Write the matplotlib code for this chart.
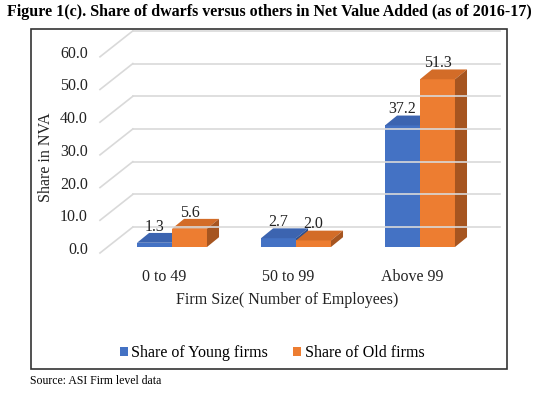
import matplotlib.pyplot as plt
from matplotlib.patches import Polygon, Rectangle, Patch

# data
categories = ['0 to 49', '50 to 99', 'Above 99']
young = [1.3, 2.7, 37.2]
old = [5.6, 2.0, 51.3]
ticks = [0, 10, 20, 30, 40, 50, 60]
series_names = ['Share of Young firms', 'Share of Old firms']

plt.rcParams['font.family'] = ['Liberation Serif', 'DejaVu Serif']

fig = plt.figure(figsize=(5.37, 3.93), dpi=100)
ax = fig.add_axes([0.1818, 0.3715, 0.7389, 0.4992])
ax.set_xlim(-0.6, 2.6)
ax.set_ylim(0, 60)
ax.axis('off')

# fake 3d offsets (data units)
w = 0.282
DX, DY = 0.097, 3.0       # bar depth
FX, FY = -0.065, -1.83    # front plane of walls
BX, BY = 0.20, 6.1        # back wall
WL, WR = -0.516, 2.645

grid_c = '#d9d9d9'
for t in ticks:
    ax.plot([WL + FX, WL + BX], [t + FY, t + BY], color=grid_c, lw=1.2, clip_on=False)
    ax.plot([WL + BX, WR], [t + BY, t + BY], color=grid_c, lw=1.2, clip_on=False)
    ax.annotate('%.1f' % t, (WL + FX, t + FY), xytext=(-12, 3), textcoords='offset pixels',
                ha='right', va='center', fontsize=11.5, color='#222222', annotation_clip=False)

colors = [('#4472C4', '#3c64b0', '#2d4f8e'), ('#ED7D31', '#d36c28', '#a65520')]


def bar3d(x0, x1, v, cols):
    front, top, side = cols
    ax.add_patch(Polygon([(x0, 0), (x1, 0), (x1, v), (x0, v)], closed=True,
                         fc=front, ec='none', clip_on=False))
    ax.add_patch(Polygon([(x0, v), (x1, v), (x1 + DX, v + DY), (x0 + DX, v + DY)],
                         closed=True, fc=top, ec='none', clip_on=False))
    ax.add_patch(Polygon([(x1, 0), (x1 + DX, DY), (x1 + DX, v + DY), (x1, v)],
                         closed=True, fc=side, ec='none', clip_on=False))


for i in range(len(categories)):
    for j, vals in enumerate([young, old]):
        x0 = i - w + j * w
        bar3d(x0, x0 + w, vals[i], colors[j])
    for j, vals in enumerate([young, old]):
        xc = i - w / 2 + j * w
        ax.annotate('%.1f' % vals[i], (xc, vals[i]), xytext=(0, 16), textcoords='offset pixels',
                    ha='center', va='center', fontsize=11.5, color='#222222',
                    annotation_clip=False)
    ax.annotate(categories[i], (i + FX, FY), xytext=(0, -24), textcoords='offset pixels',
                ha='center', va='center', fontsize=11.5, color='#222222', annotation_clip=False)

fig.text(287 / 537, 1 - 300 / 393, 'Firm Size( Number of Employees)', ha='center', va='center',
         fontsize=11.5, color='#222222')
fig.text(46 / 537, 1 - 157 / 393, 'Share in NVA', rotation=90, ha='center', va='center',
         fontsize=11.5, color='#222222')

handles = [Patch(fc=colors[0][0]), Patch(fc=colors[1][0])]
fig.legend(handles, series_names, loc='center', bbox_to_anchor=(272 / 537, 1 - 353 / 393),
           ncol=2, frameon=False, fontsize=11.5, handlelength=0.5, handleheight=0.5,
           handletextpad=0.2, columnspacing=1.6, borderpad=0)

fig.add_artist(Rectangle((31 / 537, 24 / 393), 476 / 537, 340 / 393, transform=fig.transFigure,
                         fill=False, ec='#333333', lw=1.2))

fig.text(269 / 537, 1 - 12 / 393,
         'Figure 1(c). Share of dwarfs versus others in Net Value Added (as of 2016-17)',
         ha='center', va='center', fontsize=11.5, fontweight='bold')
fig.text(30 / 537, 1 - 381 / 393, 'Source: ASI Firm level data', ha='left', va='center',
         fontsize=8.5)

fig.savefig('out.png', dpi=100)
